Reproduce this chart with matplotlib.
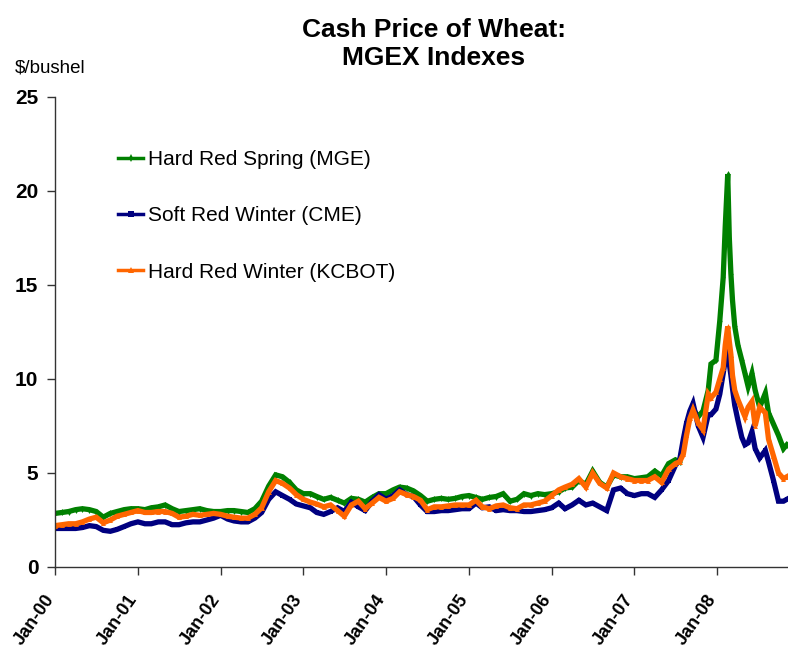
import matplotlib
matplotlib.use("Agg")
import matplotlib.pyplot as plt
import matplotlib.dates as mdates
import matplotlib.transforms as mtransforms
from matplotlib.lines import Line2D
import pandas as pd

plt.rcParams['font.family'] = ['Liberation Sans', 'DejaVu Sans']

# ---- data ----
monthly_dates = pd.date_range('2000-01-01', '2007-07-01', freq='MS')
late_dates = pd.to_datetime([
    '2007-07-20', '2007-08-05', '2007-08-19', '2007-09-03', '2007-09-17',
    '2007-10-10', '2007-10-31', '2007-11-23', '2007-12-05', '2007-12-27',
    '2008-01-13', '2008-01-28', '2008-02-06', '2008-02-17', '2008-02-24',
    '2008-03-02', '2008-03-09', '2008-03-19', '2008-04-02', '2008-04-19',
    '2008-05-03', '2008-05-17', '2008-06-03', '2008-06-17', '2008-07-07',
    '2008-08-01', '2008-08-15', '2008-09-06', '2008-09-28', '2008-10-20',
    '2008-11-04'])
dates = monthly_dates.append(late_dates)

hrs_mge = [
    # 2000
    2.85, 2.9, 2.95, 3.05, 3.1, 3.05, 2.95, 2.65, 2.85, 2.95, 3.05, 3.1,
    # 2001
    3.1, 3.05, 3.15, 3.2, 3.3, 3.1, 2.95, 3.0, 3.05, 3.1, 3.0, 2.95,
    # 2002
    2.95, 3.0, 3.0, 2.95, 2.9, 3.1, 3.5, 4.3, 4.9, 4.8, 4.5, 4.1,
    # 2003
    3.9, 3.9, 3.75, 3.6, 3.7, 3.55, 3.4, 3.65, 3.6, 3.45, 3.7, 3.9,
    # 2004
    3.9, 4.1, 4.25, 4.2, 4.05, 3.8, 3.5, 3.6, 3.65, 3.6, 3.65, 3.75,
    # 2005
    3.8, 3.7, 3.6, 3.7, 3.75, 3.9, 3.5, 3.6, 3.9, 3.8, 3.9, 3.85,
    # 2006
    3.9, 4.0, 4.2, 4.25, 4.6, 4.4, 5.1, 4.5, 4.25, 4.9, 4.8, 4.8,
    # 2007 Jan-Jul
    4.7, 4.75, 4.8, 5.1, 4.85, 5.5, 5.7,
    # late 2007 - 2008
    5.6, 6.5, 7.5, 8.0, 8.4, 8.0, 8.3, 9.4, 10.8, 11.0,
    13.1, 15.4, 18.1, 20.9, 17.5, 15.6, 14.2, 12.8, 11.8, 11.0,
    10.3, 9.6, 10.3, 9.4, 8.5, 9.25, 8.2, 7.6, 7.0, 6.3, 6.5]

srw_cme = [
    # 2000
    2.05, 2.05, 2.05, 2.05, 2.1, 2.2, 2.15, 1.95, 1.9, 2.0, 2.15, 2.3,
    # 2001
    2.4, 2.3, 2.3, 2.4, 2.4, 2.25, 2.25, 2.35, 2.4, 2.4, 2.5, 2.6,
    # 2002
    2.75, 2.55, 2.45, 2.4, 2.4, 2.6, 2.9, 3.6, 4.0, 3.8, 3.6, 3.35,
    # 2003
    3.25, 3.15, 2.9, 2.8, 2.95, 3.15, 2.95, 3.45, 3.2, 3.0, 3.5, 3.85,
    # 2004
    3.6, 3.8, 4.1, 3.85, 3.75, 3.3, 2.95, 2.95, 3.0, 3.0, 3.05, 3.1,
    # 2005
    3.1, 3.4, 3.15, 3.2, 3.0, 3.05, 3.0, 3.0, 2.95, 2.95, 3.0, 3.05,
    # 2006
    3.15, 3.4, 3.1, 3.3, 3.55, 3.3, 3.4, 3.2, 3.0, 4.1, 4.2, 3.9,
    # 2007 Jan-Jul
    3.8, 3.9, 3.9, 3.7, 4.1, 4.6, 5.4,
    # late 2007 - 2008
    5.7, 6.8, 7.65, 8.3, 8.7, 7.5, 6.9, 8.1, 8.1, 8.4,
    9.2, 10.3, 11.0, 11.7, 10.8, 10.2, 9.5, 8.6, 7.8, 6.9,
    6.5, 6.6, 7.2, 6.3, 5.8, 6.2, 5.6, 4.6, 3.5, 3.5, 3.6]

hrw_kcbot = [
    # 2000
    2.2, 2.25, 2.3, 2.3, 2.4, 2.55, 2.65, 2.35, 2.5, 2.7, 2.8, 2.9,
    # 2001
    3.0, 2.9, 2.9, 2.95, 2.95, 2.85, 2.65, 2.7, 2.8, 2.75, 2.8, 2.85,
    # 2002
    2.8, 2.7, 2.65, 2.6, 2.6, 2.8, 3.15, 4.0, 4.6, 4.45, 4.2, 3.85,
    # 2003
    3.6, 3.45, 3.35, 3.2, 3.3, 3.0, 2.7, 3.3, 3.5, 3.1, 3.4, 3.7,
    # 2004
    3.5, 3.65, 4.0, 3.85, 3.75, 3.55, 3.05, 3.2, 3.2, 3.25, 3.3, 3.3,
    # 2005
    3.3, 3.55, 3.2, 3.1, 3.25, 3.3, 3.15, 3.1, 3.3, 3.3, 3.4, 3.5,
    # 2006
    3.8, 4.1, 4.25, 4.4, 4.7, 4.25, 5.0, 4.45, 4.2, 5.0, 4.8, 4.7,
    # 2007 Jan-Jul
    4.6, 4.6, 4.6, 4.8, 4.5, 5.2, 5.5,
    # late 2007 - 2008
    5.6, 6.0, 7.0, 7.9, 8.35, 7.65, 7.3, 9.2, 9.0, 9.3,
    10.0, 10.6, 11.8, 12.8, 12.0, 11.3, 10.2, 9.4, 8.9, 8.4,
    8.0, 8.5, 8.8, 7.5, 8.5, 8.2, 6.8, 5.9, 5.0, 4.7, 4.8]

series_names = ['Hard Red Spring (MGE)', 'Soft Red Winter (CME)', 'Hard Red Winter (KCBOT)']
series_colors = ['#008000', '#000080', '#FF6600']
series_markers = ['d', 's', '^']
y_ticks = [0, 5, 10, 15, 20, 25]
x_tick_years = list(range(2000, 2009))

# ---- figure ----
fig = plt.figure(figsize=(7.88, 6.49), dpi=100)
ax = fig.add_axes([55/788, (649-567)/649, (788-55)/788, 470/649])

for vals, name, col, mk in zip([hrs_mge, srw_cme, hrw_kcbot], series_names,
                               series_colors, series_markers):
    ax.plot(dates, vals, color=col, lw=3.8, marker=mk, markersize=3.5,
            markeredgewidth=0, solid_joinstyle='miter', label=name)

ax.set_ylim(0, 25)
ax.set_yticks(y_ticks)
ax.set_xlim(pd.Timestamp('2000-01-01'), pd.Timestamp('2008-11-09'))
ax.set_xticks([pd.Timestamp(f'{y}-01-01') for y in x_tick_years])
ax.xaxis.set_major_formatter(mdates.DateFormatter('%b-%y'))

for s in ['top', 'right']:
    ax.spines[s].set_visible(False)
for s in ['left', 'bottom']:
    ax.spines[s].set_color('#333333')
    ax.spines[s].set_linewidth(1.0)

ax.tick_params(axis='y', direction='out', length=6, width=1, color='#333333',
               labelsize=15, pad=6)
ax.tick_params(axis='x', direction='out', length=6, width=1, color='#333333',
               labelsize=13, pad=15)
for lab in ax.get_yticklabels():
    lab.set_fontweight('bold')
offset = mtransforms.ScaledTranslation(-4/100, 0, fig.dpi_scale_trans)
for lab in ax.get_xticklabels():
    lab.set_fontweight('bold')
    lab.set_rotation(55)
    lab.set_ha('right')
    lab.set_va('center')
    lab.set_rotation_mode('anchor')
    lab.set_transform(lab.get_transform() + offset)

fig.text(434/788, 1 - 30/649, 'Cash Price of Wheat:', ha='center', va='center',
         fontsize=19, fontweight='bold')
fig.text(434/788, 1 - 58/649, 'MGEX Indexes', ha='center', va='center',
         fontsize=19, fontweight='bold')
fig.text(15/788, 1 - 68/649, '$/bushel', ha='left', va='center', fontsize=13.5)

handles = [Line2D([0], [0], color=c, lw=2.5, marker=m, markersize=4,
                  markeredgewidth=0) for c, m in zip(series_colors, series_markers)]
leg = ax.legend(handles, series_names, loc='upper left',
                bbox_to_anchor=((118-55)/733, (567-150)/470),
                frameon=False, fontsize=15, labelspacing=1.79,
                handlelength=1.2, handletextpad=0.25, borderpad=0,
                borderaxespad=0)

fig.savefig('out.png', dpi=100)
